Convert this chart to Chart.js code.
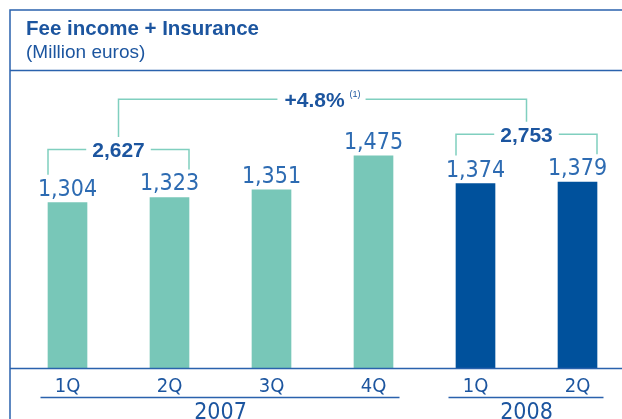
<!DOCTYPE html>
<html>
<head>
<meta charset="utf-8">
<script src="https://cdn.jsdelivr.net/npm/chart.js@4"></script>
<style>
  body { margin: 0; background: #fff; }
  #wrap { position: relative; width: 622px; height: 419px; }
</style>
</head>
<body>
<div id="wrap"><canvas id="feeChart"></canvas></div>
<script>
// chart data
const quarters = ["1Q", "2Q", "3Q", "4Q", "1Q", "2Q"];
const years = ["2007", "2008"];
const yearGroups = [[0, 3], [4, 5]];
const feeIncome = [1304, 1323, 1351, 1475, 1374, 1379];
const halfYearPairs = [[0, 1], [4, 5]];
const halfYearTotals = ["2,627", "2,753"];
const growthLabel = "+4.8%";
const growthNote = "(1)";

// axis is cut (bars don't start from zero)
const yMin = 697;
const yMax = 1753;

const teal = "#78c7b8";
const navy = "#00519c";
const barColors = quarters.map((q, i) => (i < 4 ? teal : navy));

const frameBlue = "#2a62ad";
const titleBlue = "#1c559f";
const valueBlue = "#2d6bb2";
const bracketTeal = "#80cfbf";

const narrow = "'Liberation Sans Narrow', 'DejaVu Sans Condensed', sans-serif";
const sans = "'Liberation Sans', Arial, sans-serif";

function hLine(ctx, x1, x2, y) {
  ctx.beginPath();
  ctx.moveTo(x1, y);
  ctx.lineTo(x2, y);
  ctx.stroke();
}

function bracket(ctx, x1, x2, y, b1, b2, gapL, gapR) {
  ctx.beginPath();
  ctx.moveTo(x1, b1);
  ctx.lineTo(x1, y);
  ctx.lineTo(gapL, y);
  ctx.moveTo(gapR, y);
  ctx.lineTo(x2, y);
  ctx.lineTo(x2, b2);
  ctx.stroke();
}

// frame, titles, labels and brackets
const extras = {
  id: "extras",
  afterDatasetsDraw(chart) {
    const ctx = chart.ctx;
    const bars = chart.getDatasetMeta(0).data;
    const area = chart.chartArea;
    const W = chart.width;
    ctx.save();

    // frame lines
    ctx.strokeStyle = frameBlue;
    ctx.lineWidth = 1.5;
    ctx.beginPath();
    ctx.moveTo(10, chart.height);
    ctx.lineTo(10, 10);
    ctx.lineTo(W, 10);
    ctx.stroke();
    hLine(ctx, 10, W, 70.5);
    hLine(ctx, 10, W, area.bottom);

    // title
    ctx.fillStyle = titleBlue;
    ctx.textAlign = "left";
    ctx.textBaseline = "alphabetic";
    ctx.font = "bold 20.5px " + sans;
    ctx.fillText("Fee income + Insurance", 26, 35);
    ctx.font = "19px " + sans;
    ctx.fillText("(Million euros)", 26, 58);

    // value labels
    const capV = 16;
    ctx.textAlign = "center";
    ctx.fillStyle = valueBlue;
    ctx.font = "23px " + narrow;
    bars.forEach((bar, i) => {
      ctx.fillText(feeIncome[i].toLocaleString("en-US"), bar.x, bar.y - 7);
    });

    // quarter and year labels
    ctx.fillStyle = titleBlue;
    ctx.font = "20px " + narrow;
    bars.forEach((bar, i) => ctx.fillText(quarters[i], bar.x, 392));
    ctx.strokeStyle = frameBlue;
    ctx.lineWidth = 1.5;
    ctx.font = "23px " + narrow;
    yearGroups.forEach(([a, b], k) => {
      hLine(ctx, bars[a].x - 27, bars[b].x + 26, 397.5);
      ctx.fillText(years[k], (bars[a].x + bars[b].x) / 2, 419);
    });

    // half-year brackets
    const capB = 15;
    const sumTops = [];
    const sumXs = [];
    ctx.font = "bold 21px " + sans;
    halfYearPairs.forEach(([a, b], k) => {
      const topA = bars[a].y - 7 - capV;
      const topB = bars[b].y - 7 - capV;
      const y = Math.min(topA, topB) - 25;
      const x1 = bars[a].x - 19.5;
      const x2 = bars[b].x + 19.5;
      const cx = (x1 + x2) / 2;
      const w = ctx.measureText(halfYearTotals[k]).width;
      ctx.strokeStyle = bracketTeal;
      bracket(ctx, x1, x2, y, topA - 5, topB - 5, cx - w / 2 - 6, cx + w / 2 + 6);
      ctx.fillStyle = titleBlue;
      ctx.fillText(halfYearTotals[k], cx, y + capB / 2);
      sumTops.push(y - capB / 2);
      sumXs.push(cx);
    });

    // growth bracket
    const gy = Math.min(...sumTops) - 27.5;
    ctx.font = "bold 21px " + sans;
    const gw = ctx.measureText(growthLabel).width;
    ctx.font = "9px " + sans;
    const nw = ctx.measureText(growthNote).width;
    const total = gw + 5 + nw;
    const gcx = (sumXs[0] + sumXs[1]) / 2;
    const gx = gcx - total / 2;
    ctx.strokeStyle = bracketTeal;
    bracket(ctx, sumXs[0], sumXs[1], gy, sumTops[0] - 5, sumTops[1] - 5, gx - 7, gx + total + 5);
    ctx.fillStyle = titleBlue;
    ctx.textAlign = "left";
    ctx.font = "bold 21px " + sans;
    ctx.fillText(growthLabel, gx, gy + capB / 2);
    ctx.font = "9px " + sans;
    ctx.fillText(growthNote, gx + gw + 5, gy - 2);

    ctx.restore();
  },
};

const ctx = document.getElementById("feeChart").getContext("2d");

let feeChart = new Chart(ctx, {
  type: "bar",
  data: {
    labels: quarters,
    datasets: [
      {
        data: feeIncome,
        base: yMin,
        backgroundColor: barColors,
        borderWidth: 0,
        barThickness: 39,
        clip: false,
      },
    ],
  },
  options: {
    responsive: true,
    maintainAspectRatio: false,
    animation: false,
    layout: {
      padding: { left: 67.5, right: 44.5, top: 80, bottom: 50.5 },
    },
    scales: {
      x: { display: false, offset: false },
      y: { display: false, min: yMin, max: yMax },
    },
    plugins: {
      legend: { display: false },
      tooltip: { enabled: false },
    },
  },
  plugins: [extras],
});
</script>
</body>
</html>
